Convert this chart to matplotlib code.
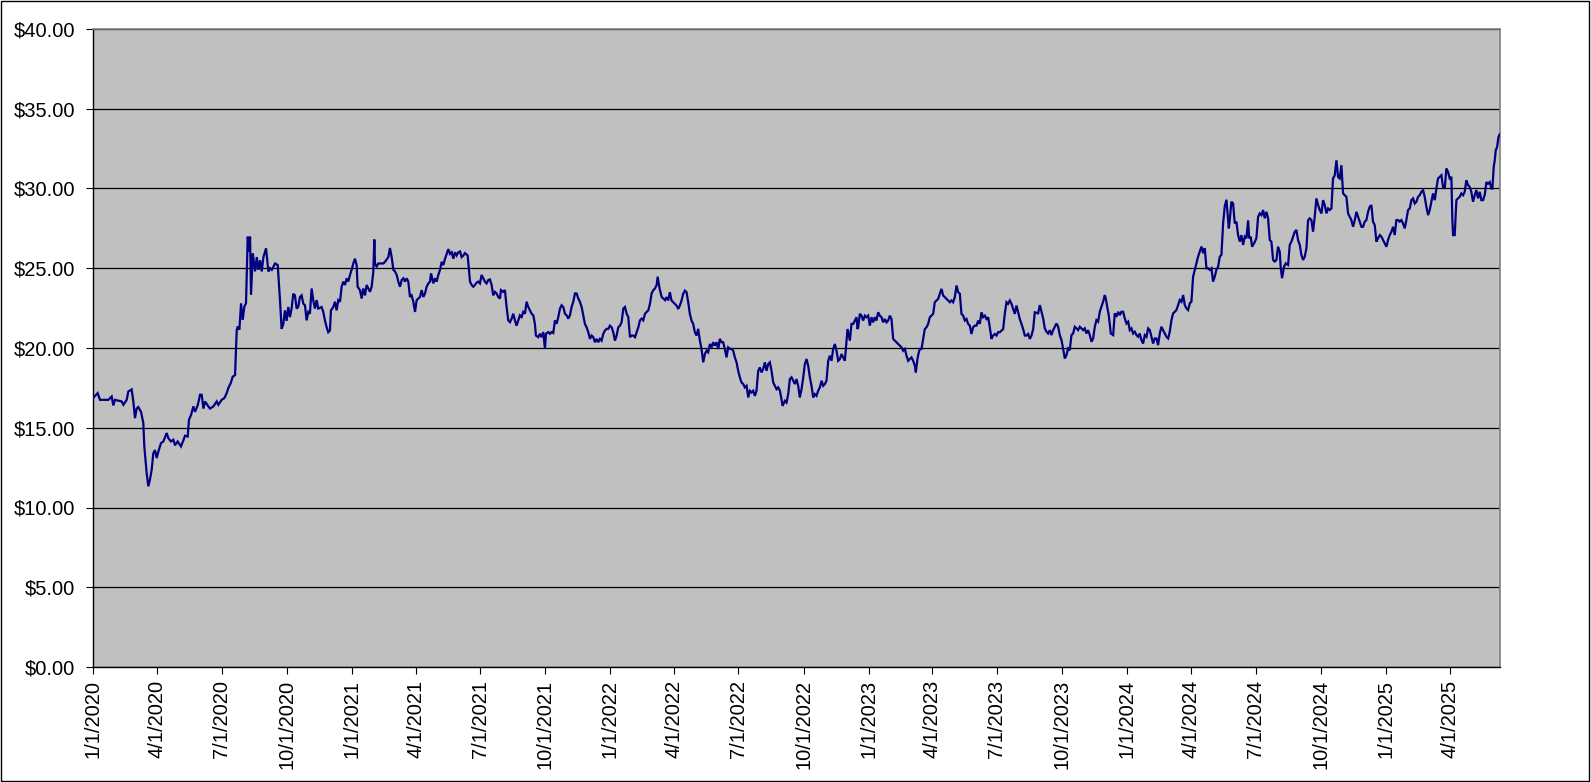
import datetime as dt
import numpy as np
import matplotlib
matplotlib.use("Agg")
import matplotlib.pyplot as plt
import matplotlib.dates as mdates
from matplotlib.patches import Rectangle

# ---------------- data ----------------
start_date = "2020-01-01"
end_day = 1988  # last plotted day offset from start_date

# day offsets from start_date and closing prices, split by calendar year
days_2020 = [0, 6.6, 9.9, 21.7, 26.4, 28.7, 31, 35.8, 40.5, 42.9,
             47.6, 49.9, 54.6, 57, 59.3, 61.7, 64, 67.8, 71.1, 72.5,
             75.8, 78.2, 80.5, 82.9, 85.2, 87.6, 90, 92.3, 96.1, 99.4,
             104.1, 106.4, 110.2, 113.5, 115.9, 119.6, 124.3, 127.6, 130, 133.8,
             135.6, 138.5, 141.8, 144.2, 148, 151.3, 153.6, 156, 158.3, 163,
             165.4, 170.1, 174.8, 177.1, 181.8, 185.6, 188.9, 191.3, 194.6, 197.4,
             200.7, 203.1, 204.5, 206.8, 209.2, 211.5, 213.9, 216.2, 218.6, 221,
             221.9, 223.3, 225.7, 229, 231.4, 233.7, 236.1, 238.4, 240.8, 244.5,
             247.8, 250.2, 252.6, 254.9, 257.3, 261, 264.2, 266.5, 268.9, 271.2,
             273.6, 275.9, 278.3, 280.6, 283, 285.3, 287.7, 290, 292.4, 294.8,
             297.1, 299.5, 301.8, 304.2, 306.5, 308.9, 311.2, 313.6, 316, 318.3,
             323, 325.4, 327.7, 330.1, 332.4, 334.8, 336.2, 339.5, 341.9, 344.2,
             346.6, 349, 351.3, 353.7, 356, 358.4, 360.7, 363.1, 365.4]
prices_2020 = [16.86, 17.17, 16.75, 16.75, 16.96, 16.4, 16.75, 16.7, 16.65, 16.44,
               16.75, 17.27, 17.4, 16.65, 15.6, 16.2, 16.3, 16.0, 15.3, 13.83,
               12.16, 11.33, 11.75, 12.37, 13.4, 13.6, 13.1, 13.5, 14.04, 14.14,
               14.67, 14.35, 14.14, 14.25, 13.9, 14.14, 13.83, 14.2, 14.5, 14.45,
               15.5, 15.8, 16.34, 16.0, 16.42, 17.07, 17.07, 16.2, 16.65, 16.34,
               16.2, 16.34, 16.65, 16.44, 16.75, 16.86, 17.17, 17.5, 17.8, 18.2,
               18.3, 21.14, 21.35, 21.14, 22.8, 21.76, 22.6, 22.8, 26.98, 26.04,
               26.98, 23.33, 25.94, 24.8, 25.7, 24.9, 25.5, 24.8, 25.7, 26.25,
               24.8, 25.0, 24.9, 25.1, 25.3, 25.2, 23.0, 21.2, 21.5, 22.36,
               21.7, 22.57, 21.94, 22.47, 23.4, 23.3, 22.47, 22.57, 23.2, 23.3,
               22.78, 22.68, 21.73, 22.26, 22.15, 23.73, 23.0, 22.47, 23.0, 22.47,
               22.57, 22.26, 21.73, 21.3, 20.99, 21.1, 22.36, 22.57, 22.9, 22.36,
               23.0, 22.9, 23.84, 24.16, 23.95, 24.37, 24.16, 24.58, 24.9]

days_2021 = [367.8, 370.1, 372.5, 373.9, 377.2, 379.6, 381.9, 384.3, 386.6, 389,
             391.4, 393.7, 396.1, 397.5, 398.4, 400.8, 403.1, 406.9, 410.2, 412.6,
             417.3, 419.6, 422, 424.4, 426.7, 429.1, 431.4, 433.8, 436.1, 438.5,
             440.8, 443.2, 445.5, 447.9, 450.2, 452.6, 455, 457.3, 459.7, 462,
             464.4, 466.7, 469.1, 471.4, 473.8, 476.2, 477.6, 480.9, 483.2, 485.6,
             487.9, 490.3, 492.6, 495, 497.4, 502.1, 504.4, 506.8, 509.1, 511.5,
             513.8, 516.2, 518.6, 520.9, 523.3, 525.6, 529.4, 532.7, 535, 537.3,
             539.6, 542, 544.3, 546.7, 549.1, 551.4, 553.8, 556.1, 558.5, 560.8,
             563.2, 565.5, 567.9, 570.2, 572.6, 575, 576.4, 579.7, 582, 584.4,
             586.7, 589.1, 591.5, 593.8, 596.2, 598.5, 600.9, 603.2, 605.6, 607.9,
             610.3, 612.6, 615, 617.4, 619.7, 622.1, 624.4, 625.8, 629.1, 631.5,
             633.8, 636.2, 638.6, 640, 643.3, 645.6, 648, 650.3, 652.7, 655.1,
             657.4, 659.8, 662.1, 664.5, 666.8, 669.2, 671.5, 673.9, 676.2, 678.6,
             681, 683.3, 685.7, 688, 690.4, 692.7, 695.1, 697.4, 699.8, 702.2,
             704.5, 706.9, 709.2, 711.6, 713.9, 716.3, 718.6, 721, 723.4, 725.7,
             728.1, 730.4]
prices_2021 = [25.3, 25.6, 25.2, 23.84, 23.63, 23.1, 23.73, 23.3, 23.95, 23.73,
               23.52, 23.84, 24.8, 26.8, 25.3, 25.1, 25.3, 25.3, 25.3, 25.4,
               25.7, 26.27, 25.7, 24.9, 24.8, 24.58, 24.16, 23.84, 24.26, 24.37,
               24.16, 24.37, 24.16, 23.2, 23.3, 22.9, 22.26, 23.0, 23.1, 23.2,
               23.63, 23.2, 23.42, 23.84, 24.05, 24.16, 24.68, 24.05, 24.37, 24.16,
               24.58, 24.9, 25.4, 25.2, 25.6, 26.2, 25.9, 26.0, 25.6, 26.0,
               25.8, 26.0, 26.05, 25.7, 25.8, 25.95, 25.8, 24.16, 23.95, 23.84,
               23.95, 24.1, 24.16, 24.05, 24.58, 24.37, 24.16, 24.05, 24.26, 24.3,
               23.95, 23.3, 23.52, 23.42, 23.2, 23.1, 23.63, 23.52, 23.63, 22.57,
               21.73, 21.62, 21.84, 22.15, 21.73, 21.4, 21.73, 22.05, 21.94, 22.26,
               22.15, 22.9, 22.57, 22.36, 22.15, 22.05, 21.5, 20.78, 20.68, 20.89,
               20.68, 21.0, 19.94, 20.89, 21.0, 20.89, 21.0, 20.94, 21.73, 21.52,
               21.94, 22.47, 22.68, 22.57, 22.15, 22.05, 21.84, 22.05, 22.57, 22.9,
               23.42, 23.42, 23.1, 22.9, 22.57, 22.05, 21.5, 21.3, 20.99, 20.57,
               20.78, 20.68, 20.36, 20.57, 20.36, 20.57, 20.46, 20.89, 21.1, 21.2,
               21.2, 21.4]

days_2022 = [732.8, 735.1, 737.5, 739.8, 742.2, 744.6, 746.9, 749.3, 751.6, 754,
             756.3, 758.7, 761, 763.4, 765.8, 768.1, 770.5, 772.8, 775.2, 777.5,
             779.9, 782.2, 784.6, 787, 789.3, 791.7, 794, 796.4, 797.8, 800.1,
             801.1, 803.5, 805.8, 808.2, 810.4, 812.7, 815.1, 816.5, 817.4, 819.8,
             822.2, 824.5, 826.9, 829.2, 831.6, 833.9, 836.3, 838.6, 841, 843.3,
             845.7, 848, 850.4, 852.8, 855.1, 857.5, 859.8, 862.2, 864.5, 866.9,
             869.2, 871.6, 874, 876.3, 878.7, 881, 883.4, 885.7, 888.1, 890.4,
             892.8, 895.1, 897.5, 899.9, 902.2, 904.6, 906.9, 909.3, 911.6, 914,
             916.3, 918.7, 921, 923.4, 925.8, 928.1, 930.5, 932.8, 935.2, 937.5,
             939.9, 942.2, 944.6, 946.9, 949.3, 951.7, 954, 956.4, 958.7, 961.1,
             963.4, 965.8, 968.1, 970.5, 972.8, 974.3, 977.6, 979.9, 982.3, 984.6,
             987, 989.3, 991.7, 994, 996.4, 998.7, 1001.1, 1003.5, 1005.8, 1008.2,
             1010.5, 1012.9, 1015.2, 1017.6, 1019.9, 1022.3, 1024.6, 1027, 1029.4, 1031.7,
             1034.1, 1036.4, 1038.8, 1041.1, 1043.5, 1045.8, 1048.2, 1050.5, 1052.9, 1055.3,
             1057.6, 1060, 1062.3, 1066.1, 1068, 1069.4, 1071.7, 1074.1, 1076.4, 1078.8,
             1080.2, 1081.1, 1083.5, 1085.8, 1088.2, 1090.6, 1092.9, 1095.3]
prices_2022 = [21.3, 20.99, 20.46, 20.78, 21.3, 21.4, 21.62, 22.47, 22.57, 22.15,
               21.94, 20.68, 20.78, 20.78, 20.68, 20.99, 21.3, 21.73, 21.84, 21.73,
               22.15, 22.26, 22.36, 22.78, 23.42, 23.63, 23.73, 23.95, 24.47, 23.84,
               23.63, 23.2, 23.1, 23.0, 23.19, 22.98, 23.5, 23.19, 22.98, 22.87,
               22.77, 22.66, 22.45, 22.66, 22.98, 23.4, 23.6, 23.5, 22.87, 22.14,
               21.72, 21.51, 20.99, 20.78, 21.2, 20.46, 19.94, 19.1, 19.62, 19.83,
               19.73, 20.25, 20.04, 20.36, 20.15, 20.36, 19.94, 20.57, 20.36, 20.36,
               19.94, 19.41, 20.04, 19.94, 19.94, 19.83, 19.41, 19.1, 18.57, 18.16,
               17.84, 17.74, 17.53, 17.63, 16.9, 17.32, 17.21, 17.32, 17.0, 17.32,
               18.57, 18.78, 18.47, 18.68, 19.1, 18.57, 18.99, 19.1, 18.57, 17.84,
               17.63, 17.42, 17.53, 17.32, 16.79, 16.37, 16.69, 16.58, 17.11, 18.05,
               18.16, 17.95, 17.74, 18.05, 17.63, 16.9, 17.42, 18.16, 18.99, 19.31,
               18.89, 18.16, 17.63, 16.9, 17.11, 17.0, 17.32, 17.53, 17.95, 17.63,
               17.74, 17.95, 19.2, 19.52, 19.2, 19.94, 20.25, 19.83, 19.2, 19.31,
               19.62, 19.41, 19.2, 21.19, 20.78, 20.46, 21.51, 21.51, 21.72, 21.93,
               21.19, 21.3, 22.14, 22.03, 21.72, 22.03, 21.93, 22.03]

days_2023 = [1097.6, 1100, 1102.3, 1104.7, 1107, 1109.4, 1111.7, 1114.1, 1116.5, 1118.8,
             1121.2, 1123.5, 1125.9, 1128.2, 1130.6, 1132.9, 1135.3, 1137.6, 1140, 1142.4,
             1144.7, 1147.1, 1149.4, 1151.8, 1154.1, 1156.5, 1158.8, 1161.2, 1162.6, 1164.9,
             1166.8, 1168.3, 1170.6, 1173, 1175.3, 1177.7, 1180, 1182.4, 1184.7, 1187.1,
             1189.4, 1191.8, 1194.2, 1196.5, 1198.9, 1201.2, 1203.6, 1205.9, 1208.3, 1210.6,
             1213, 1215.3, 1217.7, 1220.1, 1222.4, 1224.8, 1227.1, 1229.5, 1231.8, 1234.2,
             1236.5, 1238.9, 1241.2, 1243.6, 1245.9, 1248.3, 1250.7, 1253, 1255.4, 1257.7,
             1260.1, 1262.4, 1264.8, 1267.1, 1269.5, 1271.8, 1274.2, 1276.6, 1278.9, 1281.3,
             1283.6, 1286, 1288.3, 1290.7, 1293, 1295.4, 1297.8, 1300.1, 1302.5, 1304.8,
             1307.2, 1309.5, 1311.9, 1314.2, 1316.6, 1318.9, 1321.3, 1323.7, 1326, 1328.4,
             1330.7, 1335.4, 1337.8, 1340.1, 1342.5, 1344.8, 1347.2, 1349.5, 1351.9, 1354.2,
             1356.6, 1359, 1361.3, 1363.7, 1366, 1368.4, 1370.7, 1373.1, 1375.4, 1377.8,
             1380.1, 1382.5, 1384.9, 1387.2, 1389.6, 1391.9, 1394.3, 1396.6, 1399, 1401.3,
             1403.7, 1406, 1408.4, 1410.8, 1413.1, 1415.5, 1417.8, 1420.2, 1422.5, 1424.9,
             1427.2, 1429.6, 1431, 1433.4, 1435.2, 1438.1, 1441.4, 1443.7, 1446.1, 1448.4,
             1450.8, 1453.1, 1455.5, 1457.8, 1460.2]
prices_2023 = [21.4, 21.93, 21.61, 21.93, 21.72, 22.24, 22.03, 21.93, 21.61, 21.82,
               21.61, 21.72, 22.03, 21.82, 20.57, 20.46, 20.36, 20.25, 20.15, 20.04,
               19.83, 19.94, 19.52, 19.2, 19.31, 19.41, 19.2, 18.89, 18.47, 19.31,
               19.73, 19.94, 19.94, 20.57, 21.19, 21.3, 21.51, 21.93, 22.03, 22.14,
               22.87, 22.98, 23.08, 23.4, 23.71, 23.29, 23.19, 23.08, 22.98, 22.87,
               22.98, 22.87, 23.19, 23.92, 23.5, 23.4, 22.14, 22.03, 21.72, 21.82,
               21.51, 21.4, 20.88, 21.3, 21.4, 21.4, 21.72, 21.51, 22.24, 21.93,
               22.03, 21.82, 21.93, 21.3, 20.57, 20.78, 20.88, 20.78, 20.99, 20.99,
               21.09, 21.19, 22.14, 22.87, 22.77, 22.98, 22.77, 22.45, 22.14, 22.66,
               22.24, 21.82, 21.51, 21.19, 20.78, 20.78, 20.88, 20.57, 20.78, 21.19,
               22.24, 22.17, 22.69, 22.27, 21.86, 21.23, 21.02, 20.91, 21.12, 20.81,
               21.12, 21.33, 21.54, 21.33, 20.81, 20.49, 19.97, 19.34, 19.55, 19.97,
               19.86, 20.81, 20.91, 21.33, 21.23, 21.12, 21.33, 21.23, 21.12, 21.23,
               20.91, 21.12, 20.81, 20.39, 20.6, 21.33, 21.75, 21.65, 22.27, 22.59,
               22.9, 23.32, 23.11, 22.48, 22.06, 20.91, 20.81, 22.17, 21.96, 22.27,
               22.06, 22.27, 22.27, 21.86, 21.54]

days_2024 = [1462.6, 1464.9, 1467.3, 1469.6, 1472, 1474.3, 1476.7, 1479, 1481.4, 1483.7,
             1486.1, 1488.5, 1490.8, 1493.2, 1495.5, 1497.9, 1500.2, 1502.6, 1504.9, 1507.3,
             1509.6, 1512, 1514.4, 1516.7, 1519.1, 1521.4, 1523.8, 1526.1, 1528.5, 1530.8,
             1533.2, 1535.5, 1537.9, 1540.3, 1542.6, 1545, 1547.3, 1549.7, 1552, 1554.4,
             1556.7, 1559.1, 1561.4, 1563.8, 1566.2, 1568.5, 1570.9, 1573.2, 1575.6, 1577.9,
             1580.3, 1582.6, 1585, 1587.3, 1589.7, 1592.1, 1594.4, 1596.8, 1599.1, 1601.5,
             1604.8, 1606.2, 1608.5, 1610.9, 1613.2, 1615.6, 1617.9, 1620.3, 1622.6, 1625,
             1627.4, 1629.7, 1632.1, 1633.5, 1635.8, 1637.7, 1640.5, 1643.8, 1646.2, 1648.5,
             1650.9, 1653.3, 1655.6, 1658, 1660.3, 1662.7, 1665, 1667.4, 1669.7, 1672.1,
             1674.4, 1676.8, 1678.2, 1680.1, 1682.9, 1685.3, 1688.6, 1690.9, 1693.3, 1695.6,
             1698, 1700.3, 1702.7, 1705.1, 1707.4, 1709.8, 1712.1, 1714.5, 1716.8, 1719.2,
             1721.5, 1723.9, 1726.2, 1728.6, 1731, 1733.3, 1735.7, 1738, 1740.4, 1742.7,
             1745.1, 1747.4, 1749.8, 1752.1, 1754.5, 1756.9, 1759.2, 1761.6, 1763.9, 1766.3,
             1768.6, 1771, 1773.3, 1775.7, 1778, 1780.4, 1782.8, 1785.1, 1787.5, 1789.8,
             1792.2, 1794.5, 1796.9, 1799.2, 1801.6, 1803.9, 1806.3, 1808.6, 1811, 1813.4,
             1815.7, 1818.1, 1820.4, 1822.8, 1825.1]
prices_2024 = [21.65, 21.12, 21.23, 20.91, 21.02, 20.81, 20.7, 20.91, 20.49, 20.28,
               20.81, 20.7, 21.23, 21.12, 20.7, 20.28, 20.6, 20.6, 20.18, 20.91,
               21.33, 21.12, 20.91, 20.7, 20.6, 21.02, 21.75, 22.17, 22.27, 22.38,
               22.69, 23.01, 22.9, 23.32, 22.69, 22.48, 22.38, 22.8, 22.9, 24.48,
               24.9, 25.31, 25.73, 26.05, 26.36, 25.94, 26.26, 25.0, 25.0, 24.9,
               25.0, 24.16, 24.48, 24.9, 25.1, 25.73, 25.84, 27.83, 28.88, 29.3,
               27.5, 28.02, 29.17, 29.06, 27.81, 27.92, 27.08, 26.67, 27.08, 26.46,
               26.98, 26.88, 28.0, 26.88, 26.98, 26.35, 26.56, 26.88, 28.23, 28.44,
               28.33, 28.65, 28.13, 28.54, 28.13, 26.77, 26.67, 25.52, 25.42, 25.52,
               26.35, 26.04, 25.0, 24.38, 25.1, 25.31, 25.21, 26.46, 26.67, 26.98,
               27.29, 27.4, 26.77, 26.46, 25.83, 25.52, 25.73, 26.25, 28.0, 28.13,
               28.02, 27.29, 28.23, 29.38, 28.96, 28.65, 28.44, 29.27, 28.96, 28.44,
               28.75, 28.65, 28.75, 30.63, 30.83, 31.77, 30.73, 30.63, 31.46, 29.69,
               29.58, 29.48, 28.44, 28.23, 28.02, 27.6, 28.02, 28.54, 28.23, 27.92,
               27.6, 27.6, 27.92, 28.02, 28.54, 28.85, 28.96, 27.92, 27.71, 26.67,
               26.88, 27.08, 26.98, 26.77, 26.56]

days_2025 = [1827.5, 1829.8, 1832.2, 1834.6, 1836.9, 1839.3, 1841.6, 1844, 1846.3, 1848.7,
             1851, 1853.4, 1855.7, 1858.1, 1860.5, 1862.8, 1865.2, 1867.5, 1869.9, 1872.2,
             1874.6, 1876.9, 1879.3, 1881.6, 1884, 1886.4, 1888.7, 1891.1, 1893.4, 1895.8,
             1898.1, 1900.5, 1902.8, 1905.2, 1907.5, 1909.9, 1912.2, 1914.6, 1917, 1919.3,
             1920.7, 1921.7, 1924, 1926.4, 1928.7, 1931.1, 1933.4, 1935.8, 1938.1, 1940.5,
             1942.9, 1945.2, 1947.5, 1949.9, 1952.3, 1954.6, 1957, 1959.3, 1961.7, 1964,
             1966.4, 1968.8, 1971.1, 1973.5, 1975.8, 1977.3, 1979.1, 1980.6, 1982, 1983.9,
             1985.7, 1987.6]
prices_2025 = [26.35, 26.77, 27.08, 27.29, 27.6, 27.08, 28.02, 28.02, 27.92, 28.02,
               27.81, 27.5, 28.02, 28.65, 28.75, 29.27, 29.38, 29.06, 29.17, 29.48,
               29.58, 29.79, 29.9, 29.48, 28.85, 28.33, 28.65, 29.17, 29.69, 29.27,
               30.0, 30.63, 30.73, 30.83, 30.1, 30.0, 31.25, 31.04, 30.63, 30.73,
               28.0, 27.08, 27.08, 29.27, 29.38, 29.48, 29.69, 29.58, 29.79, 30.52,
               30.21, 30.1, 29.79, 29.17, 29.58, 29.9, 29.38, 29.79, 29.27, 29.27,
               29.6, 30.4, 30.3, 30.4, 30.0, 30.0, 31.35, 31.77, 32.4, 32.6,
               33.2, 33.4]

x_tick_labels = ["1/1/2020", "4/1/2020", "7/1/2020", "10/1/2020",
                 "1/1/2021", "4/1/2021", "7/1/2021", "10/1/2021",
                 "1/1/2022", "4/1/2022", "7/1/2022", "10/1/2022",
                 "1/1/2023", "4/1/2023", "7/1/2023", "10/1/2023",
                 "1/1/2024", "4/1/2024", "7/1/2024", "10/1/2024",
                 "1/1/2025", "4/1/2025"]
y_ticks = [0, 5, 10, 15, 20, 25, 30, 35, 40]
y_tick_labels = ["$0.00", "$5.00", "$10.00", "$15.00", "$20.00",
                 "$25.00", "$30.00", "$35.00", "$40.00"]

# ---------------- assemble ----------------
day_groups = [days_2020, days_2021, days_2022, days_2023, days_2024, days_2025]
price_groups = [prices_2020, prices_2021, prices_2022, prices_2023, prices_2024, prices_2025]
for d, p in zip(day_groups, price_groups):
    assert len(d) == len(p), (len(d), len(p))
days = np.concatenate([np.asarray(d, float) for d in day_groups])
prices = np.concatenate([np.asarray(p, float) for p in price_groups])

base = mdates.date2num(dt.datetime.strptime(start_date, "%Y-%m-%d"))
x = base + days

plt.rcParams["font.family"] = ["Liberation Sans", "DejaVu Sans"]

W, H = 1591, 782
fig = plt.figure(figsize=(W / 100, H / 100), dpi=100)
fig.patch.set_facecolor("white")
left, right, top, bottom = 93, 1500, 29, 667
ax = fig.add_axes([left / W, 1 - bottom / H, (right - left) / W, (bottom - top) / H])
ax.set_facecolor("#C0C0C0")

ax.plot(x, prices, color="#000080", lw=1.6, solid_joinstyle="miter", zorder=3)

ax.set_ylim(0, 40)
ax.set_xlim(base, base + end_day)

ax.set_yticks(y_ticks)
ax.set_yticklabels(y_tick_labels)
tick_pos = [mdates.date2num(dt.datetime.strptime(s, "%m/%d/%Y")) for s in x_tick_labels]
ax.set_xticks(tick_pos)
ax.set_xticklabels(x_tick_labels, rotation=90, ha="center", va="top")

ax.yaxis.grid(True, color="black", lw=0.9)
ax.set_axisbelow(True)
ax.xaxis.grid(False)

ax.tick_params(axis="y", direction="out", length=5, width=0.8, color="black",
               labelsize=14.5, pad=8, labelcolor="black")
ax.tick_params(axis="x", direction="out", length=5, width=0.8, color="black",
               labelsize=14.5, pad=4.5, labelcolor="black")

for side in ("top", "right"):
    ax.spines[side].set_color("#808080")
    ax.spines[side].set_linewidth(1.2)
for side in ("left", "bottom"):
    ax.spines[side].set_color("black")
    ax.spines[side].set_linewidth(1.0)

# outer chart border
fig.add_artist(Rectangle((0.6 / W, 1.2 / H), (W - 2.4) / W, (H - 2.4) / H,
                         transform=fig.transFigure, fill=False,
                         edgecolor="black", lw=1.0))

fig.savefig("out.png", dpi=100, facecolor="white")
